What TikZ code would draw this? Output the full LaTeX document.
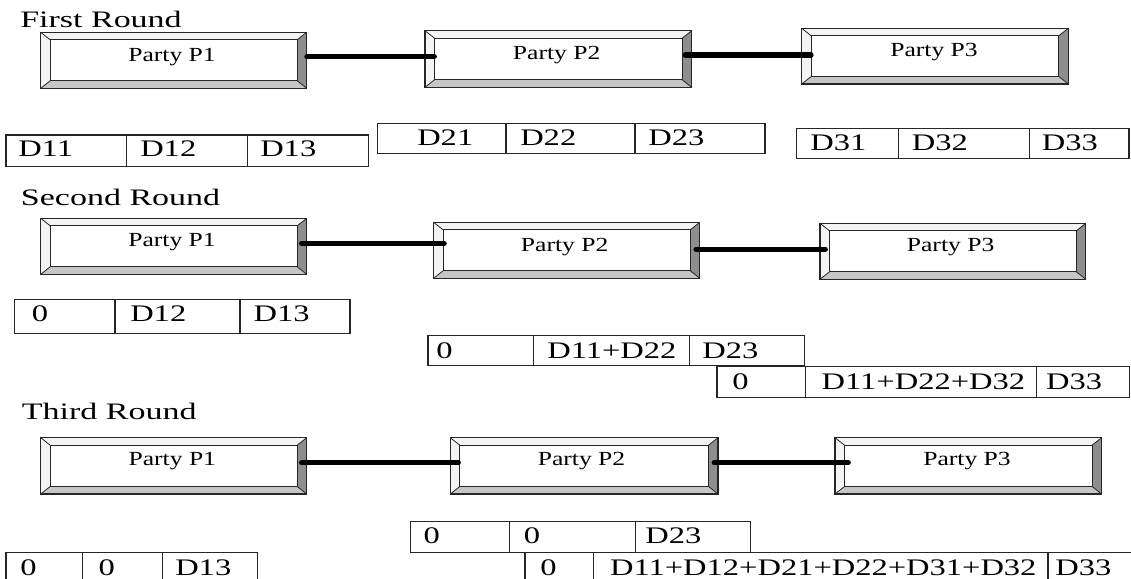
\documentclass[tikz,border=0pt]{standalone}
\usepackage{fontspec}
\setmainfont{Liberation Serif}
\usetikzlibrary{fit}
\definecolor{bevlight}{HTML}{F4F4F4}
\definecolor{bevdark}{HTML}{8E8E8E}
\definecolor{bevmid}{HTML}{C6C6C6}
\definecolor{edge}{HTML}{262626}
\tikzset{
  boxline/.style={draw=edge, line width=0.9pt},
  cellline/.style={draw=edge, line width=1pt},
  link/.style={draw=black, line width=4pt, line cap=round},
  celltext/.style={anchor=base west, inner sep=0pt, font=\fontsize{17.8pt}{20pt}\selectfont},
  partytext/.style={anchor=base west, inner sep=0pt, font=\fontsize{15pt}{17pt}\selectfont},
  roundtitle/.style={anchor=base west, inner sep=0pt, font=\fontsize{17.7pt}{20pt}\selectfont},
}
\def\bx{9.5}
\def\by{7.5}
% #1 name, #2 x1, #3 y1, #4 x2, #5 y2, #6 text x, #7 text baseline, #8 text
\newcommand\pbox[8]{%
  \fill[bevlight] (#2,#3) -- (#4,#3) -- ({#4-\bx},{#3+\by}) -- ({#2+\bx},{#3+\by}) -- cycle;
  \fill[bevlight] (#2,#3) -- ({#2+\bx},{#3+\by}) -- ({#2+\bx},{#5-\by}) -- (#2,#5) -- cycle;
  \fill[bevdark] (#4,#3) -- (#4,#5) -- ({#4-\bx},{#5-\by}) -- ({#4-\bx},{#3+\by}) -- cycle;
  \fill[bevmid] (#2,#5) -- (#4,#5) -- ({#4-\bx},{#5-\by}) -- ({#2+\bx},{#5-\by}) -- cycle;
  \fill[white] ({#2+\bx},{#3+\by}) rectangle ({#4-\bx},{#5-\by});
  \draw[boxline] (#2,#3) rectangle (#4,#5);
  \draw[boxline] ({#2+\bx},{#3+\by}) rectangle ({#4-\bx},{#5-\by});
  \draw[edge, line width=0.6pt] (#2,#3) -- ({#2+\bx},{#3+\by})
     (#4,#3) -- ({#4-\bx},{#3+\by})
     (#2,#5) -- ({#2+\bx},{#5-\by})
     (#4,#5) -- ({#4-\bx},{#5-\by});
  \coordinate (#1-a) at (#2,#3);
  \coordinate (#1-b) at (#4,#5);
  \coordinate (#1-c) at ({#2+\bx},{#3+\by});
  \coordinate (#1-d) at ({#4-\bx},{#5-\by});
  \node[fit=(#1-a)(#1-b), inner sep=0pt] (#1) {};
  \node[fit=(#1-c)(#1-d), inner sep=0pt] (#1i) {};
  \node[partytext] (#1t) at (#6,#7) {\scalebox{1.28}[1]{#8}};
}
% y1, y2, xa, xb, xc, xd
\newcommand\crow[6]{%
  \draw[cellline] (#3,#1) rectangle (#6,#2);
  \draw[cellline] (#4,#1) -- (#4,#2) (#5,#1) -- (#5,#2);
}
\newcommand\ct[4]{\node[celltext] (#1) at (#2,#3) {\scalebox{1.37}[1]{#4}};}
\begin{document}
\begin{tikzpicture}[x=0.75pt, y=-0.75pt]
\useasboundingbox (0,0) rectangle (1131,578);
\clip (0,0) rectangle (1131,578);
\fill[white] (0,0) rectangle (1131,578);

% ---------------- First Round ----------------
\node[roundtitle] (title1) at (20,27) {\scalebox{1.44}[1]{First Round}};
\pbox{ra}{40.7}{32.3}{306.7}{88.3}{128}{61}{Party P1}
\pbox{rb}{425}{30.7}{691.7}{87.3}{512.7}{59.3}{Party P2}
\pbox{rc}{801.7}{28.3}{1068.3}{84}{890}{56.7}{Party P3}
\draw[link] (ra.east |- 0,56.7) -- (rbi.west |- 0,56.7);
\draw[link] ([xshift=-5]rb.east |- 0,55) -- (rci.west |- 0,55);

\crow{135}{166.7}{6}{126.7}{247.3}{368.3}
\ct{c111}{18}{156.7}{D11}
\ct{c112}{140}{156.7}{D12}
\ct{c113}{260}{156.7}{D13}
\crow{123.3}{153.3}{377.7}{506}{635}{765}
\ct{c121}{417}{145}{D21}
\ct{c122}{520}{145}{D22}
\ct{c123}{648}{145}{D23}
\crow{128.3}{158.3}{796.7}{898.3}{1029.3}{1129}
\ct{c131}{810}{150}{D31}
\ct{c132}{911.7}{150}{D32}
\ct{c133}{1041.7}{150}{D33}

% ---------------- Second Round ----------------
\node[roundtitle] (title2) at (20.7,205) {\scalebox{1.44}[1]{Second Round}};
\pbox{sa}{40.7}{218.3}{306.7}{274.3}{128}{246.7}{Party P1}
\pbox{sb}{433.6}{222.3}{699.8}{278.3}{520.7}{251.7}{Party P2}
\pbox{sc}{820}{223.3}{1085.8}{279.3}{906.6}{251.7}{Party P3}
\draw[link] ([xshift=-4]sa.east |- 0,243.3) -- ([xshift=1]sbi.west |- 0,243.3);
\draw[link] ([xshift=-3]sb.east |- 0,249.3) -- ([xshift=-3]sci.west |- 0,249.3);

\crow{299.3}{333.3}{14.3}{115}{240}{350}
\ct{c211}{31.7}{321.7}{0}
\ct{c212}{130}{321.7}{D12}
\ct{c213}{253.3}{321.7}{D13}
\crow{335.7}{365.7}{428}{533.4}{689.8}{804.6}
\ct{c221}{436}{358.3}{0}
\ct{c222}{547}{358.3}{D11+D22}
\ct{c223}{702}{358.3}{D23}
\crow{366.7}{397.3}{717}{805.5}{1036.8}{1129.8}
\ct{c231}{732}{389}{0}
\ct{c232}{821.4}{389}{D11+D22+D32}
\ct{c233}{1045.8}{389}{D33}

% ---------------- Third Round ----------------
\node[roundtitle] (title3) at (21.7,419.3) {\scalebox{1.44}[1]{Third Round}};
\pbox{ta}{40.7}{437.7}{306.7}{494}{128.3}{465.7}{Party P1}
\pbox{tb}{450.3}{437.7}{718}{494}{537.5}{465.7}{Party P2}
\pbox{tc}{835}{437.7}{1101.6}{494}{923}{465.7}{Party P3}
\draw[link] ([xshift=-4]ta.east |- 0,462.7) -- ([xshift=-1]tbi.west |- 0,462.7);
\draw[link] ([xshift=-3]tb.east |- 0,462.7) -- ([xshift=3]tci.west |- 0,462.7);

\crow{552.7}{600}{6}{82.7}{162.3}{257.7}
\ct{c311}{20}{575}{0}
\ct{c312}{98.3}{575}{0}
\ct{c313}{175}{575}{D13}
\crow{521.7}{552.3}{410.3}{509.6}{635.4}{750.6}
\ct{c321}{423.3}{543.3}{0}
\ct{c322}{523.5}{543.3}{0}
\ct{c323}{645}{543.3}{D23}
\crow{552.7}{600}{525}{593.5}{1048}{1140}
\ct{c331}{540}{575}{0}
\ct{c332}{609.8}{575}{D11+D12+D21+D22+D31+D32}
\ct{c333}{1055}{575}{D33}
\end{tikzpicture}
\end{document}
